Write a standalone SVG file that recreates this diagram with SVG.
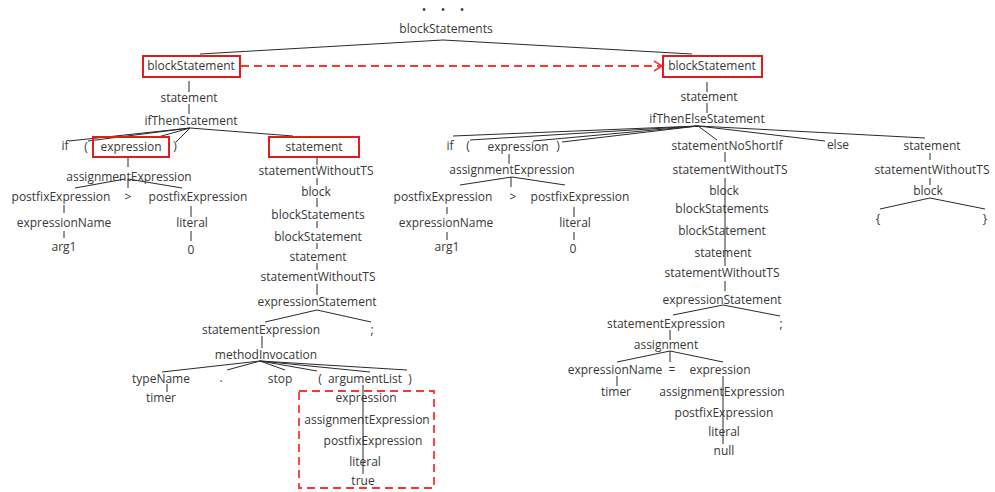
<svg xmlns="http://www.w3.org/2000/svg" width="995" height="492" viewBox="0 0 995 492">
<defs>
<style>
text{font-family:"Open Sans","DejaVu Sans",sans-serif;font-size:12px;fill:#383838;text-anchor:middle}
.ln{stroke:#2a2a2a;stroke-width:1;fill:none}
.box{fill:none;stroke:#e51a1a;stroke-width:2}
.dash{fill:none;stroke:#ff3333;stroke-width:1.8;stroke-dasharray:8 5}
</style>
<marker id="open" viewBox="0 0 10 12" refX="9" refY="6" markerWidth="10" markerHeight="12" markerUnits="userSpaceOnUse" orient="auto">
<path d="M1,1 L9,6 L1,11" fill="none" stroke="#ff3333" stroke-width="1.6"/>
</marker>
</defs>
<rect width="995" height="492" fill="#fff"/>
<g id="connectors">
<path class="ln" d="M443,40 L200,54 M443,40 L692,54"/>
<path class="ln" d="M189,81 V92 M189,104 V114"/>
<path class="ln" d="M190,128 L69,141 M190,128 L88,141 M190,128 L158,137 M190,128 L176,142 M190,128 L293,136"/>
<path class="ln" d="M128,157 V167"/>
<path class="ln" d="M125,179 L75,188 M128,179 V188 M128,179 L182,188"/>
<path class="ln" d="M64,205 V213 M64,231 V238 M191,206 V217 M191,231 V241"/>
<path class="ln" d="M317,157 V165 M317,178 V185 M317,198 V207 M317,221 V228 M317,243 V249 M317,263 V270 M317,284 V295"/>
<path class="ln" d="M317,310 L265,322 M317,310 L371,322"/>
<path class="ln" d="M262,336 V348"/>
<path class="ln" d="M260,361 L162,372 M260,361 L227,370 M260,361 L285,370 M260,361 L317,371 M260,361 L370,372 M260,361 L407,370"/>
<path class="ln" d="M167,384 V392 M363,385 V474"/>
<path class="ln" d="M707,82 V92 M707,103 V113"/>
<path class="ln" d="M698,126 L453,136 M698,126 L470,140 M698,126 L533,141 M698,126 L562,142 M698,126 L717,140 M698,126 L825,141 M698,126 L925,138"/>
<path class="ln" d="M509,154 V164"/>
<path class="ln" d="M512,177 L460,185 M511,177 V187 M512,177 L565,185"/>
<path class="ln" d="M447,207 V214 M447,232 V240 M574,207 V217 M574,232 V240"/>
<path class="ln" d="M725,152 V162 M725,178 V266 M725,281 V291"/>
<path class="ln" d="M723,305 L673,315 M723,305 L780,316"/>
<path class="ln" d="M670,330 V340"/>
<path class="ln" d="M670,351 L617,362 M670,351 V362 M670,351 L723,362"/>
<path class="ln" d="M617,376 V386 M723,376 V444"/>
<path class="ln" d="M930,153 V160 M930,178 V185"/>
<path class="ln" d="M930,198 L880,209 M930,198 L985,209"/>
<path class="dash" d="M241,66 H662" marker-end="url(#open)"/>
</g>
<text x="424 443 462" y="14">•••</text>
<g id="root"><text x="446" y="33">blockStatements</text></g>
<g id="L_bs"><rect class="box" x="143" y="56" width="97" height="21"/><text x="191" y="70">blockStatement</text></g>
<g id="L_st"><text x="189" y="102">statement</text></g>
<g id="L_if"><text x="191" y="125">ifThenStatement</text></g>
<g id="L_kwif"><text x="65" y="150">if</text></g>
<g id="L_lp"><text x="86" y="151">(</text></g>
<g id="L_expr"><rect class="box" x="93" y="137" width="76" height="20"/><text x="131" y="151">expression</text></g>
<g id="L_rp"><text x="175" y="150">)</text></g>
<g id="L_stmt"><rect class="box" x="269" y="137" width="90" height="20"/><text x="314" y="151">statement</text></g>
<g id="L_ae"><text x="129" y="181">assignmentExpression</text></g>
<g id="L_pf1"><text x="61" y="201">postfixExpression</text></g>
<g id="L_gt"><text x="128" y="201">&gt;</text></g>
<g id="L_pf2"><text x="198" y="201">postfixExpression</text></g>
<g id="L_en"><text x="64" y="227">expressionName</text></g>
<g id="L_arg1"><text x="64" y="251">arg1</text></g>
<g id="L_lit"><text x="192" y="227">literal</text></g>
<g id="L_zero"><text x="191" y="254">0</text></g>
<g id="L_swt"><text x="316" y="175">statementWithoutTS</text></g>
<g id="L_blk"><text x="316" y="196">block</text></g>
<g id="L_bss"><text x="318" y="219">blockStatements</text></g>
<g id="L_bs2"><text x="318" y="241">blockStatement</text></g>
<g id="L_st2"><text x="318" y="261">statement</text></g>
<g id="L_swt2"><text x="318" y="281">statementWithoutTS</text></g>
<g id="L_es"><text x="317" y="306">expressionStatement</text></g>
<g id="L_se"><text x="261" y="334">statementExpression</text></g>
<g id="L_semi"><text x="372" y="334">;</text></g>
<g id="L_mi"><text x="266" y="359">methodInvocation</text></g>
<g id="L_tn"><text x="161" y="383">typeName</text></g>
<g id="L_dot"><text x="221" y="382">.</text></g>
<g id="L_stop"><text x="280" y="383">stop</text></g>
<g id="L_lp2"><text x="320" y="383">(</text></g>
<g id="L_al"><text x="365" y="383">argumentList</text></g>
<g id="L_rp2"><text x="410" y="383">)</text></g>
<g id="L_timer"><text x="161" y="402">timer</text></g>
<g id="L_e3"><text x="366" y="402">expression</text></g>
<g id="L_ae3"><text x="367" y="424">assignmentExpression</text></g>
<g id="L_pf3"><text x="373" y="445">postfixExpression</text></g>
<g id="L_lit3"><text x="365" y="466">literal</text></g>
<g id="L_true"><text x="363" y="485">true</text></g>
<g id="L_dashbox"><rect class="dash" x="299" y="391" width="135" height="97"/></g>
<g id="R_bs"><rect class="box" x="663" y="56" width="99" height="21"/><text x="712" y="70">blockStatement</text></g>
<g id="R_st"><text x="709" y="101">statement</text></g>
<g id="R_ite"><text x="707" y="123">ifThenElseStatement</text></g>
<g id="R_if"><text x="450" y="150">if</text></g>
<g id="R_lp"><text x="468" y="150">(</text></g>
<g id="R_expr"><text x="518" y="151">expression</text></g>
<g id="R_rp"><text x="558" y="150">)</text></g>
<g id="R_snsi"><text x="727" y="150">statementNoShortIf</text></g>
<g id="R_else"><text x="838" y="149">else</text></g>
<g id="R_stmt"><text x="932" y="150">statement</text></g>
<g id="R_ae"><text x="512" y="174">assignmentExpression</text></g>
<g id="R_pf1"><text x="443" y="201">postfixExpression</text></g>
<g id="R_gt"><text x="513" y="201">&gt;</text></g>
<g id="R_pf2"><text x="580" y="201">postfixExpression</text></g>
<g id="R_en"><text x="446" y="227">expressionName</text></g>
<g id="R_arg1"><text x="447" y="251">arg1</text></g>
<g id="R_lit"><text x="575" y="227">literal</text></g>
<g id="R_zero"><text x="573" y="253">0</text></g>
<g id="R_swt"><text x="730" y="174">statementWithoutTS</text></g>
<g id="R_blk"><text x="724" y="195">block</text></g>
<g id="R_bss"><text x="722" y="213">blockStatements</text></g>
<g id="R_bs2"><text x="722" y="235">blockStatement</text></g>
<g id="R_st2"><text x="723" y="257">statement</text></g>
<g id="R_swt2"><text x="722" y="277">statementWithoutTS</text></g>
<g id="R_es"><text x="722" y="304">expressionStatement</text></g>
<g id="R_se"><text x="666" y="328">statementExpression</text></g>
<g id="R_semi"><text x="781" y="328">;</text></g>
<g id="R_asg"><text x="666" y="349">assignment</text></g>
<g id="R_en2"><text x="615" y="374">expressionName</text></g>
<g id="R_eq"><text x="672" y="374">=</text></g>
<g id="R_e2"><text x="720" y="374">expression</text></g>
<g id="R_timer"><text x="616" y="396">timer</text></g>
<g id="R_ae2"><text x="722" y="396">assignmentExpression</text></g>
<g id="R_pf3"><text x="724" y="417">postfixExpression</text></g>
<g id="R_lit2"><text x="724" y="436">literal</text></g>
<g id="R_null"><text x="724" y="455">null</text></g>
<g id="R_swt3"><text x="932" y="174">statementWithoutTS</text></g>
<g id="R_blk3"><text x="928" y="195">block</text></g>
<g id="R_lb"><text x="878" y="223">{</text></g>
<g id="R_rb"><text x="985" y="223">}</text></g>
</svg>
